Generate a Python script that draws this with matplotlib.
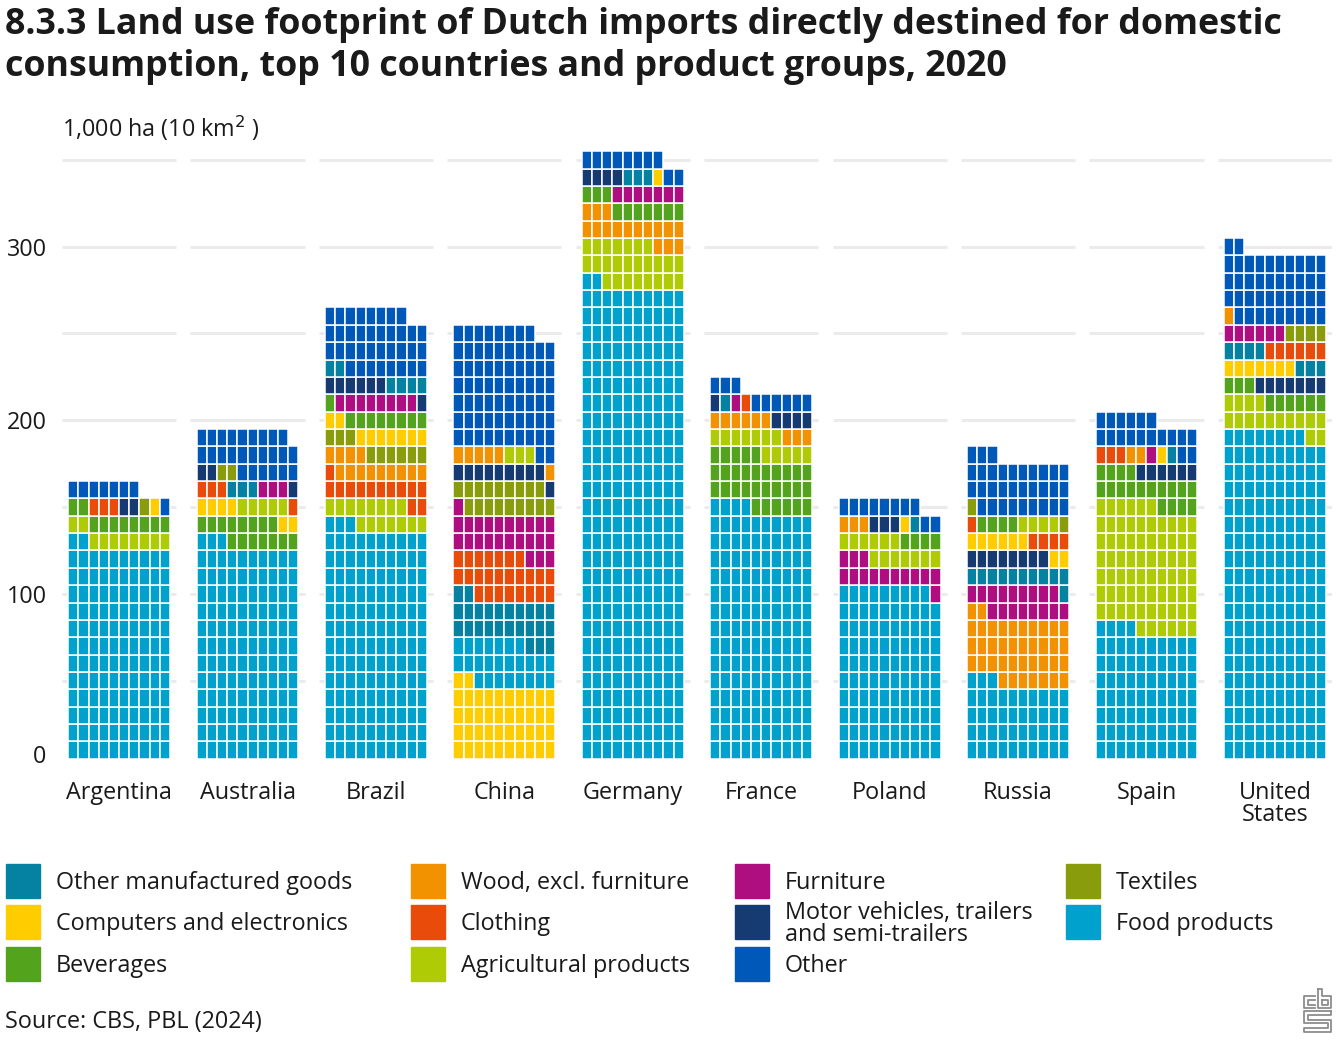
import matplotlib
matplotlib.use("Agg")
import matplotlib.pyplot as plt
from matplotlib.patches import Rectangle
from matplotlib.lines import Line2D

plt.rcParams['font.family'] = ['Open Sans', 'DejaVu Sans']

# land use per country, 1 cell = 1,000 ha, listed bottom-up as stacked in the chart
argentina = [('food', 122), ('agri', 10), ('bev', 10), ('cloth', 3), ('motor', 2),
             ('tex', 1), ('comp', 1), ('other', 8)]
australia = [('food', 123), ('bev', 15), ('comp', 6), ('agri', 5), ('cloth', 4),
             ('omg', 3), ('furn', 3), ('motor', 3), ('tex', 2), ('other', 25)]
brazil = [('food', 133), ('agri', 15), ('cloth', 13), ('wood', 13), ('tex', 9),
          ('comp', 9), ('bev', 9), ('furn', 8), ('motor', 7), ('omg', 6), ('other', 36)]
china = [('comp', 42), ('food', 25), ('omg', 25), ('cloth', 25), ('furn', 24),
         ('tex', 18), ('motor', 10), ('wood', 6), ('agri', 3), ('other', 70)]
germany = [('food', 272), ('agri', 25), ('wood', 16), ('bev', 10), ('furn', 7),
           ('motor', 4), ('omg', 3), ('comp', 1), ('other', 10)]
france = [('food', 144), ('bev', 31), ('agri', 12), ('wood', 9), ('motor', 5),
          ('omg', 1), ('furn', 1), ('cloth', 1), ('other', 9)]
poland = [('food', 99), ('furn', 14), ('agri', 13), ('bev', 4), ('wood', 3),
          ('motor', 3), ('comp', 1), ('omg', 1), ('other', 10)]
russia = [('food', 43), ('wood', 39), ('furn', 17), ('omg', 11), ('motor', 8),
          ('comp', 8), ('cloth', 5), ('bev', 4), ('agri', 4), ('tex', 2), ('other', 32)]
spain = [('food', 74), ('agri', 72), ('bev', 18), ('motor', 6), ('cloth', 3),
         ('wood', 2), ('furn', 1), ('comp', 1), ('omg', 1), ('other', 18)]
united_states = [('food', 188), ('agri', 16), ('bev', 9), ('motor', 7), ('comp', 7),
                 ('omg', 7), ('cloth', 6), ('furn', 6), ('tex', 4), ('wood', 1), ('other', 41)]

countries = ['Argentina', 'Australia', 'Brazil', 'China', 'Germany',
             'France', 'Poland', 'Russia', 'Spain', 'United\nStates']
country_data = [argentina, australia, brazil, china, germany,
                france, poland, russia, spain, united_states]

labels = {
    'omg': 'Other manufactured goods', 'comp': 'Computers and electronics',
    'bev': 'Beverages', 'wood': 'Wood, excl. furniture', 'cloth': 'Clothing',
    'agri': 'Agricultural products', 'furn': 'Furniture',
    'motor': 'Motor vehicles, trailers\nand semi-trailers', 'other': 'Other',
    'tex': 'Textiles', 'food': 'Food products',
}
colors = {
    'omg': '#0581a2', 'comp': '#ffcc00', 'bev': '#53a31d', 'wood': '#f39200',
    'cloth': '#e94c0a', 'agri': '#afcb05', 'furn': '#af0e80', 'motor': '#163a72',
    'other': '#0058b8', 'tex': '#899d0c', 'food': '#00a1cd',
}
legend_order = [['omg', 'comp', 'bev'], ['wood', 'cloth', 'agri'],
                ['furn', 'motor', 'other'], ['tex', 'food']]

W, H = 1340, 1046
ncol = 10       # cells per row
pitch = 12.6    # distance between countries, in cells
cell_h = 10     # one row of 10 cells = 10,000 ha
txt = '#1a1a1a'

fig = plt.figure(figsize=(W / 100, H / 100), dpi=100)
ax = fig.add_axes([62 / W, (H - 767.5) / H, 1270 / W, 625 / H])
ax.set_xlim(-0.6, 9 * pitch + ncol + 0.6)
ax.set_ylim(0, 360)

for i, data in enumerate(country_data):
    x0 = i * pitch
    ax.hlines(range(50, 351, 50), x0 - 0.6, x0 + ncol + 0.6, color='#ebebeb', lw=2.2, zorder=0)
    n = 0
    for code, v in data:
        xs, bottoms = [], []
        for k in range(n, n + v):
            xs.append(x0 + k % ncol)
            bottoms.append(cell_h * (k // ncol) + cell_h / 2)
        n += v
        ax.bar(xs, cell_h, width=1, bottom=bottoms, align='edge', color=colors[code],
               edgecolor='white', linewidth=1.1, zorder=2)

for s in ax.spines.values():
    s.set_visible(False)
ax.set_yticks([8, 100, 200, 300], ['0', '100', '200', '300'])
ax.set_xticks([i * pitch + ncol / 2 for i in range(len(countries))], countries)
ax.tick_params(length=0, labelsize=16.8, colors=txt)
ax.tick_params(axis='y', pad=11)
ax.tick_params(axis='x', pad=10)
for t in ax.get_xticklabels():
    t.set_linespacing(0.85)

# title, fitted to the width of the reference
title = fig.text(5 / W, 1 - 34 / H, '8.3.3 Land use footprint of Dutch imports directly destined for domestic',
                 fontsize=22, fontweight='bold', va='baseline', ha='left', color=txt)
r = fig.canvas.get_renderer()
fs = 22 * 1273 / title.get_window_extent(r).width
title.set_fontsize(fs)
fig.text(5 / W, 1 - 76 / H, 'consumption, top 10 countries and product groups, 2020',
         fontsize=fs, fontweight='bold', va='baseline', ha='left', color=txt)

fig.text(62 / W, 1 - 128 / H, '1,000 ha (10 km$^{2}$ )', fontsize=16.8, va='center', color=txt)

leg_x = [6, 411, 735, 1066]
leg_y = [881, 922, 964]
for c, col in enumerate(legend_order):
    for rr, code in enumerate(col):
        fig.add_artist(Rectangle((leg_x[c] / W, (H - leg_y[rr] - 17) / H), 34 / W, 34 / H,
                                 transform=fig.transFigure, color=colors[code]))
        fig.text((leg_x[c] + 50) / W, 1 - leg_y[rr] / H - 0.002, labels[code], fontsize=16.8,
                 va='center', ha='left', linespacing=0.85, color=txt)

fig.text(5 / W, 1 - 1022 / H, 'Source: CBS, PBL (2024)', fontsize=16.8, va='center', color=txt)

# small cbs logo, outlined in grey
def logo_line(pts):
    fig.add_artist(Line2D([p[0] / W for p in pts], [1 - p[1] / H for p in pts],
                          transform=fig.transFigure, color='#8c8c8c', lw=1.3))

logo_line([(1315, 996), (1304, 996), (1304, 1008), (1315, 1008)])
logo_line([(1315, 999.5), (1307.5, 999.5), (1307.5, 1004.5), (1315, 1004.5)])
logo_line([(1318, 989), (1321.5, 989), (1321.5, 996), (1331, 996), (1331, 1008), (1318, 1008), (1318, 989)])
logo_line([(1321.5, 999.5), (1327.5, 999.5), (1327.5, 1004.5), (1321.5, 1004.5), (1321.5, 999.5)])
logo_line([(1331, 1011), (1304, 1011), (1304, 1023), (1327.5, 1023), (1327.5, 1027.5),
           (1304, 1027.5), (1304, 1032), (1331, 1032), (1331, 1019.5), (1307.5, 1019.5),
           (1307.5, 1015), (1331, 1015), (1331, 1011)])

fig.savefig('out.png', dpi=100)
